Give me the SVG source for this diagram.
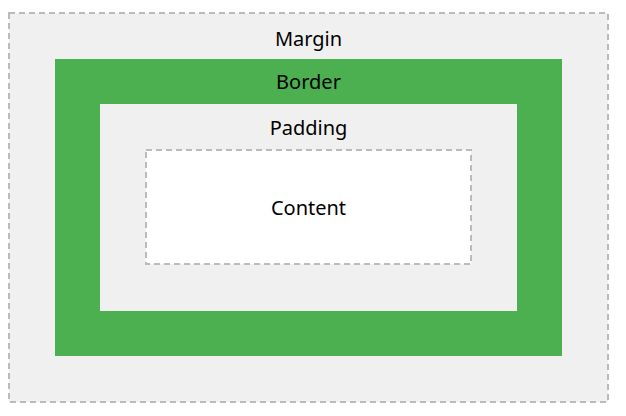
<svg xmlns="http://www.w3.org/2000/svg" width="626" height="416" viewBox="0 0 626 416">
<style>
.dash{stroke:#bbbbbb;stroke-width:2;stroke-dasharray:6 4}
.lbl{font-family:"Noto Sans","Open Sans","DejaVu Sans",sans-serif;font-size:20px;fill:#000;text-anchor:middle}
</style>
<rect x="0" y="0" width="626" height="416" fill="#ffffff"/>
<g id="margin">
<rect x="9" y="13" width="599" height="389" fill="#f0f0f0" class="dash"/>
<text class="lbl" x="308.5" y="46">Margin</text>
</g>
<g id="border">
<rect x="55" y="59" width="507" height="297" fill="#4caf50"/>
<text class="lbl" x="308.5" y="89">Border</text>
</g>
<g id="padding">
<rect x="100" y="104" width="417" height="207" fill="#f0f0f0"/>
<text class="lbl" x="308.5" y="135">Padding</text>
</g>
<g id="content">
<rect x="146" y="150" width="325" height="114" fill="#ffffff" class="dash"/>
<text class="lbl" x="308.5" y="215">Content</text>
</g>
<g id="connectors"/>
</svg>
